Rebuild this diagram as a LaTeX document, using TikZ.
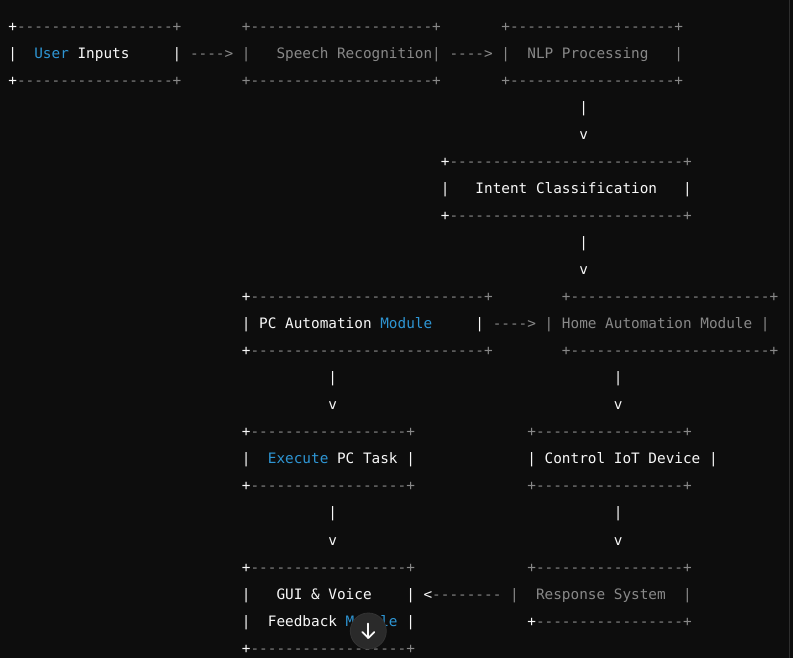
\documentclass[tikz,border=0pt]{standalone}
\usepackage{fontspec}
\setmonofont{DejaVu Sans Mono}
\usetikzlibrary{calc}
\definecolor{bgc}{HTML}{0D0D0D}
\definecolor{cw}{HTML}{F8F8F8}
\definecolor{cg}{HTML}{888888}
\definecolor{cb}{HTML}{2E95D3}
\definecolor{btn}{HTML}{2A2A2A}
\definecolor{btnb}{HTML}{333333}
\definecolor{edgec}{HTML}{2E2E2E}
\ExplSyntaxOn
\cs_new:Npn \dsh #1 {\prg_replicate:nn{#1}{-}}
\ExplSyntaxOff
\newcommand\R[5]{\node[txt,text=#3] (#5) at (#1,#2) {#4};}
\begin{document}
\begin{tikzpicture}[x=1pt,y=-1pt,
  txt/.style={inner sep=0pt,outer sep=0pt,anchor=base west,
    font=\ttfamily\fontsize{14.37}{17}\selectfont}]
\fill[bgc] (0,0) rectangle (793,658);
\useasboundingbox (0,0) rectangle (793,658);
\draw[edgec,line width=1pt] (789.5,0) -- (789.5,658);
\begin{scope}[shift={(8.375pt,-31.26pt)},x=8.65pt,y=-27.04pt]
% row 0
\R{0}{0}{cw}{+}{a0a}
\R{1}{0}{cg}{\dsh{18}+}{a0b}
\R{27}{0}{cg}{+\dsh{21}+}{a0c}
\R{57}{0}{cg}{+\dsh{19}+}{a0d}
% row 1
\R{0}{1}{cw}{|}{a1a}
\R{3}{1}{cb}{User}{a1b}
\R{8}{1}{cw}{Inputs}{a1c}
\R{19}{1}{cw}{|}{a1d}
\R{21}{1}{cg}{---->}{a1e}
\R{27}{1}{cg}{|}{a1f}
\R{31}{1}{cg}{Speech Recognition|}{a1g}
\R{51}{1}{cg}{---->}{a1h}
\R{57}{1}{cg}{|}{a1i}
\R{60}{1}{cg}{NLP Processing}{a1j}
\R{77}{1}{cg}{|}{a1k}
% row 2
\R{0}{2}{cw}{+}{a2a}
\R{1}{2}{cg}{\dsh{18}+}{a2b}
\R{27}{2}{cg}{+\dsh{21}+}{a2c}
\R{57}{2}{cg}{+\dsh{19}+}{a2d}
% rows 3-4
\R{66}{3}{cw}{|}{a3a}
\R{66}{4}{cw}{v}{a4a}
% rows 5-7
\R{50}{5}{cw}{+}{a5a}
\R{51}{5}{cg}{\dsh{27}+}{a5b}
\R{50}{6}{cw}{|}{a6a}
\R{54}{6}{cw}{Intent Classification}{a6b}
\R{78}{6}{cw}{|}{a6c}
\R{50}{7}{cw}{+}{a7a}
\R{51}{7}{cg}{\dsh{27}+}{a7b}
% rows 8-9
\R{66}{8}{cw}{|}{a8a}
\R{66}{9}{cw}{v}{a9a}
% rows 10-12
\R{27}{10}{cw}{+}{b0a}
\R{28}{10}{cg}{\dsh{27}+}{b0b}
\R{64}{10}{cg}{+\dsh{23}+}{b0c}
\R{27}{11}{cw}{|}{b1a}
\R{29}{11}{cw}{PC Automation}{b1b}
\R{43}{11}{cb}{Module}{b1c}
\R{54}{11}{cw}{|}{b1d}
\R{56}{11}{cg}{---->}{b1e}
\R{62}{11}{cg}{|}{b1f}
\R{64}{11}{cg}{Home Automation Module}{b1g}
\R{87}{11}{cg}{|}{b1h}
\R{27}{12}{cw}{+}{b2a}
\R{28}{12}{cg}{\dsh{27}+}{b2b}
\R{64}{12}{cg}{+\dsh{23}+}{b2c}
% rows 13-14
\R{37}{13}{cw}{|}{b3a}
\R{70}{13}{cw}{|}{b3b}
\R{37}{14}{cw}{v}{b4a}
\R{70}{14}{cw}{v}{b4b}
% rows 15-17
\R{27}{15}{cw}{+}{c5a}
\R{28}{15}{cg}{\dsh{18}+}{c5b}
\R{60}{15}{cg}{+\dsh{17}+}{c5c}
\R{27}{16}{cw}{|}{c6a}
\R{30}{16}{cb}{Execute}{c6b}
\R{38}{16}{cw}{PC Task}{c6c}
\R{46}{16}{cw}{|}{c6d}
\R{60}{16}{cw}{|}{c6e}
\R{62}{16}{cw}{Control IoT Device}{c6f}
\R{81}{16}{cw}{|}{c6g}
\R{27}{17}{cw}{+}{c7a}
\R{28}{17}{cg}{\dsh{18}+}{c7b}
\R{60}{17}{cg}{+\dsh{17}+}{c7c}
% rows 18-19
\R{37}{18}{cw}{|}{c8a}
\R{70}{18}{cw}{|}{c8b}
\R{37}{19}{cw}{v}{c9a}
\R{70}{19}{cw}{v}{c9b}
% rows 20-23
\R{27}{20}{cw}{+}{d0a}
\R{28}{20}{cg}{\dsh{18}+}{d0b}
\R{60}{20}{cg}{+\dsh{17}+}{d0c}
\R{27}{21}{cw}{|}{d1a}
\R{31}{21}{cw}{GUI \& Voice}{d1b}
\R{46}{21}{cw}{|}{d1c}
\R{48}{21}{cw}{<}{d1d}
\R{49}{21}{cg}{\dsh{8}}{d1e}
\R{58}{21}{cg}{|}{d1f}
\R{61}{21}{cg}{Response System}{d1g}
\R{78}{21}{cg}{|}{d1h}
\R{27}{22}{cw}{|}{d2a}
\R{30}{22}{cw}{Feedback}{d2b}
\R{39}{22}{cb}{Module}{d2c}
\R{46}{22}{cw}{|}{d2d}
\R{60}{22}{cw}{+}{d2e}
\R{61}{22}{cg}{\dsh{17}+}{d2f}
\R{27}{23}{cw}{+}{d3a}
\R{28}{23}{cg}{\dsh{18}+}{d3b}
\end{scope}
% scroll-down button
\node[circle,fill=btn,draw=btnb,line width=0.8pt,minimum size=36pt,inner sep=0pt] (scroll) at (368.3,631) {};
\draw[cw,line width=1.7pt,line cap=round,line join=round]
  ($(scroll.center)+(0,-7.5)$) -- ($(scroll.center)+(0,7)$);
\draw[cw,line width=1.7pt,line cap=round,line join=round]
  ($(scroll.center)+(-6,1)$) -- ($(scroll.center)+(0,7)$) -- ($(scroll.center)+(6,1)$);
\end{tikzpicture}
\end{document}
